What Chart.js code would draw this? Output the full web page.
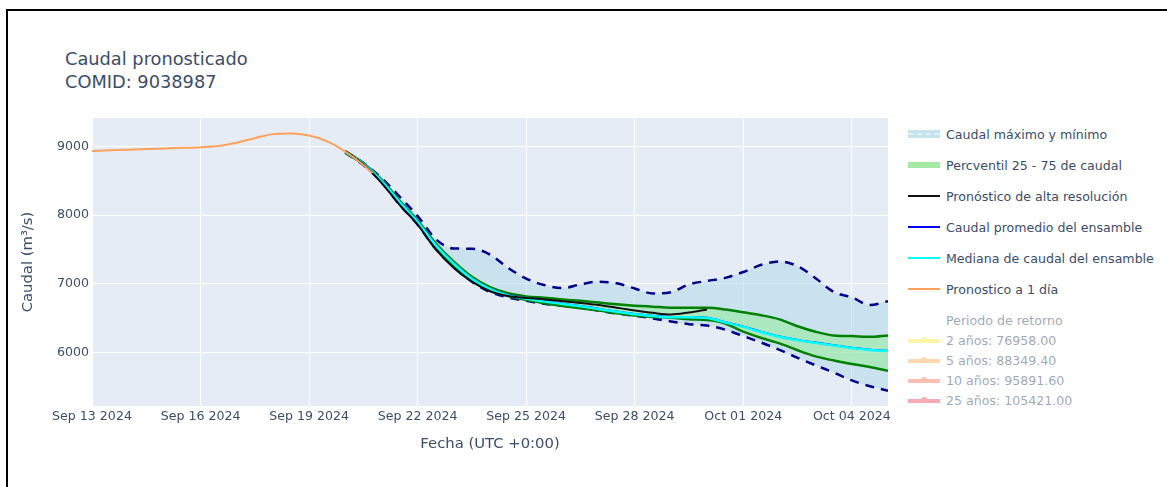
<!DOCTYPE html>
<html>
<head>
<meta charset="utf-8">
<script src="https://cdn.jsdelivr.net/npm/chart.js@4.4.1/dist/chart.umd.min.js"></script>
<style>
  body { margin: 0; width: 1167px; height: 487px; overflow: hidden; position: relative; background: #fff;
         font-family: "DejaVu Sans", Verdana, sans-serif; color: #3b4d69; }
  #marco { position: absolute; left: 6px; top: 9px; width: 1200px; height: 600px; border: 2px solid #000; }
  #titulo { position: absolute; left: 65px; top: 47px; font-size: 17.8px; line-height: 23px; }
  #grafico { position: absolute; left: 0; top: 0; }
  .item { position: absolute; left: 908px; height: 20px; display: flex; align-items: center; white-space: nowrap; font-size: 12.6px; }
  .sw { width: 32px; height: 10px; margin-right: 6px; position: relative; }
  .sw div { position: absolute; left: 0; width: 32px; }
</style>
</head>
<body>
<div id="marco"></div>
<div id="titulo">Caudal pronosticado<br>COMID: 9038987</div>
<canvas id="grafico" width="900" height="487"></canvas>
<div id="leyenda"></div>
<script>
// Pronóstico a 1 día
const fechas1d = ['2024-09-13T00:00Z', '2024-09-13T12:00Z', '2024-09-14T00:00Z', '2024-09-14T12:00Z',
  '2024-09-15T00:00Z', '2024-09-15T12:00Z', '2024-09-16T00:00Z', '2024-09-16T12:00Z', '2024-09-17T00:00Z',
  '2024-09-17T12:00Z', '2024-09-18T00:00Z', '2024-09-18T12:00Z', '2024-09-19T00:00Z', '2024-09-19T12:00Z',
  '2024-09-20T00:00Z', '2024-09-20T12:00Z', '2024-09-20T18:00Z'];
const caudal1d = [8935, 8944, 8953, 8962, 8972, 8980, 8990, 9008, 9055, 9120, 9180, 9190, 9160, 9075, 8925, 8730, 8610];

// ensamble
const fechasEns = ['2024-09-20T00:00Z', '2024-09-20T12:00Z', '2024-09-21T00:00Z', '2024-09-21T12:00Z',
  '2024-09-22T00:00Z', '2024-09-22T12:00Z', '2024-09-23T00:00Z', '2024-09-23T12:00Z', '2024-09-24T00:00Z',
  '2024-09-24T12:00Z', '2024-09-25T00:00Z', '2024-09-25T12:00Z', '2024-09-26T00:00Z', '2024-09-26T12:00Z',
  '2024-09-27T00:00Z', '2024-09-27T12:00Z', '2024-09-28T00:00Z', '2024-09-28T12:00Z', '2024-09-29T00:00Z',
  '2024-09-29T12:00Z', '2024-09-30T00:00Z', '2024-09-30T12:00Z', '2024-10-01T00:00Z', '2024-10-01T12:00Z',
  '2024-10-02T00:00Z', '2024-10-02T12:00Z', '2024-10-03T00:00Z', '2024-10-03T12:00Z', '2024-10-04T00:00Z',
  '2024-10-04T12:00Z', '2024-10-05T00:00Z'];
const caudalMax = [8930, 8760, 8540, 8270, 7985, 7650, 7513, 7510, 7425, 7230, 7075, 6980, 6935, 6990, 7030, 7005,
  6930, 6857, 6876, 6990, 7040, 7085, 7170, 7275, 7325, 7255, 7080, 6880, 6800, 6690, 6744];
const caudalMin = [8910, 8730, 8480, 8150, 7860, 7510, 7240, 7030, 6880, 6800, 6750, 6706, 6680, 6652, 6605, 6565,
  6533, 6493, 6450, 6410, 6390, 6330, 6236, 6140, 6035, 5920, 5810, 5705, 5590, 5505, 5440];
const perc75 = [8930, 8760, 8520, 8210, 7920, 7590, 7320, 7100, 6950, 6860, 6815, 6795, 6770, 6750, 6725, 6700,
  6680, 6665, 6650, 6648, 6648, 6625, 6584, 6540, 6480, 6380, 6300, 6245, 6236, 6225, 6246];
const perc25 = [8910, 8740, 8490, 8170, 7880, 7540, 7260, 7050, 6900, 6820, 6760, 6715, 6675, 6640, 6610, 6570,
  6535, 6515, 6505, 6480, 6470, 6420, 6300, 6208, 6130, 6030, 5940, 5880, 5830, 5785, 5729];
const caudalProm = [8922, 8753, 8504, 8194, 7904, 7565, 7294, 7074, 6924, 6834, 6784, 6744, 6709, 6674, 6634, 6594,
  6559, 6534, 6514, 6513, 6503, 6439, 6374, 6297, 6231, 6181, 6141, 6103, 6068, 6038, 6023];
const caudalMed = [8920, 8750, 8500, 8190, 7900, 7560, 7290, 7070, 6920, 6830, 6780, 6740, 6705, 6670, 6630, 6590,
  6555, 6530, 6510, 6510, 6500, 6435, 6370, 6293, 6227, 6177, 6137, 6099, 6064, 6034, 6019];

// alta resolución
const fechasHres = fechasEns.slice(0, 21);
const caudalHres = [8930, 8740, 8470, 8150, 7860, 7500, 7230, 7030, 6890, 6820, 6790, 6770, 6745, 6720, 6690, 6650,
  6610, 6575, 6550, 6580, 6625];

// periodos de retorno
const periodos = [2, 5, 10, 25];
const retorno = [76958.00, 88349.40, 95891.60, 105421.00];

const nombres = ['Caudal máximo y mínimo', 'Percventil 25 - 75 de caudal', 'Pronóstico de alta resolución',
  'Caudal promedio del ensamble', 'Mediana de caudal del ensamble', 'Pronostico a 1 día'];

const ticksX = ['2024-09-13', '2024-09-16', '2024-09-19', '2024-09-22', '2024-09-25', '2024-09-28', '2024-10-01', '2024-10-04'];
const textoX = ['Sep 13 2024', 'Sep 16 2024', 'Sep 19 2024', 'Sep 22 2024', 'Sep 25 2024', 'Sep 28 2024', 'Oct 01 2024', 'Oct 04 2024'];
const ticksY = [6000, 7000, 8000, 9000];

const puntos = (fechas, vals) => vals.map((v, i) => ({ x: Date.parse(fechas[i]), y: v }));

const coloresRet = ['rgb(255,235,60)', 'rgb(255,170,70)', 'rgb(255,110,90)', 'rgb(240,70,90)'];
const tIni = Date.parse(fechas1d[0]);
const tFin = Date.parse(fechasEns[fechasEns.length - 1]);

const linea = { pointRadius: 0, borderWidth: 2, cubicInterpolationMode: 'monotone', fill: false };

const datasets = [
  { ...linea, label: nombres[0], data: puntos(fechasEns, caudalMax), borderColor: '#00008b', borderWidth: 2.5,
    borderDash: [9, 7], fill: '+1', backgroundColor: 'rgba(173,216,230,0.5)', order: 10, swatch: 'banda' },
  { ...linea, label: 'min', data: puntos(fechasEns, caudalMin), borderColor: '#00008b', borderWidth: 2.5,
    borderDash: [9, 7], order: 9, swatch: null },
  { ...linea, label: nombres[1], data: puntos(fechasEns, perc75), borderColor: '#008000', borderWidth: 2.5, fill: '+1',
    backgroundColor: 'rgba(144,238,144,0.5)', order: 8, swatch: 'verde' },
  { ...linea, label: 'p25', data: puntos(fechasEns, perc25), borderColor: '#008000', borderWidth: 2.5, order: 7, swatch: null },
  { ...linea, label: nombres[2], data: puntos(fechasHres, caudalHres), borderColor: '#111', order: 4, swatch: 'linea' },
  { ...linea, label: nombres[3], data: puntos(fechasEns, caudalProm), borderColor: '#0000ff', order: 6, swatch: 'linea' },
  { ...linea, label: nombres[4], data: puntos(fechasEns, caudalMed), borderColor: '#00ffff', borderWidth: 2.5, order: 5, swatch: 'linea' },
  { ...linea, label: nombres[5], data: puntos(fechas1d, caudal1d), borderColor: '#ffa15a', order: 3, swatch: 'linea' }
];
periodos.forEach((p, i) => {
  datasets.push({ ...linea, label: p + ' años: ' + retorno[i].toFixed(2), hidden: true,
    data: [{ x: tIni, y: retorno[i] }, { x: tFin, y: retorno[i] }],
    borderColor: coloresRet[i], order: 1, swatch: 'marca' });
});

const fondo = {
  id: 'fondo',
  beforeDraw(chart) {
    const { ctx, chartArea: a } = chart;
    ctx.save();
    ctx.fillStyle = '#e5ecf6';
    ctx.fillRect(a.left, a.top, a.right - a.left, a.bottom - a.top);
    ctx.restore();
  }
};

Chart.defaults.font.family = '"DejaVu Sans", Verdana, sans-serif';
Chart.defaults.color = '#3b4d69';

const chart = new Chart(document.getElementById('grafico').getContext('2d'), {
  type: 'line',
  data: { datasets },
  plugins: [fondo],
  options: {
    responsive: false,
    animation: false,
    layout: { padding: { left: 0, top: 118, right: 12, bottom: 0 } },
    plugins: { legend: { display: false }, tooltip: { enabled: false } },
    scales: {
      x: {
        type: 'linear', min: tIni, max: tFin,
        afterFit: s => { s.height = 81; },
        afterBuildTicks: s => { s.ticks = ticksX.map(t => ({ value: Date.parse(t + 'T00:00Z') })); },
        ticks: { autoSkip: false, maxRotation: 0, padding: 3, font: { size: 12.6 },
          callback: (v, i) => textoX[i] },
        grid: { color: '#fff', lineWidth: 1, drawTicks: false },
        border: { display: false },
        title: { display: true, text: 'Fecha (UTC +0:00)', font: { size: 14.8 }, padding: { top: 0, bottom: 34 } }
      },
      y: {
        min: 5217, max: 9415,
        afterFit: s => { s.width = 92; },
        afterBuildTicks: s => { s.ticks = ticksY.map(v => ({ value: v })); },
        ticks: { padding: 3, font: { size: 12.6 }, callback: v => String(v) },
        grid: { color: '#fff', lineWidth: 1, drawTicks: false },
        border: { display: false },
        title: { display: true, text: 'Caudal (m³/s)', font: { size: 14.8 }, padding: { top: 19, bottom: 0 } }
      }
    }
  }
});

// leyenda
const leyenda = document.getElementById('leyenda');
const centros = [134, 165, 196, 227, 258, 289];
const centrosRet = [340, 360, 380, 400];
function fila(y, html, texto, tenue) {
  const d = document.createElement('div');
  d.className = 'item';
  d.style.top = (y - 10) + 'px';
  if (tenue) d.style.color = 'rgba(59,77,105,0.5)';
  d.innerHTML = html + '<span>' + texto + '</span>';
  leyenda.appendChild(d);
}
let k = 0, r = 0;
chart.data.datasets.forEach(ds => {
  if (ds.swatch === 'banda') {
    fila(centros[k++], '<div class="sw"><div style="top:1px;height:8px;background:rgba(173,216,230,0.7)"></div>' +
      '<div style="top:4px;height:0;border-top:2px dashed rgba(255,255,255,0.45)"></div></div>', ds.label);
  } else if (ds.swatch === 'verde') {
    fila(centros[k++], '<div class="sw"><div style="top:2px;height:6px;background:#a4eaa4"></div></div>', ds.label);
  } else if (ds.swatch === 'linea') {
    fila(centros[k++], '<div class="sw"><div style="top:4px;height:2px;background:' + ds.borderColor + '"></div></div>', ds.label);
  } else if (ds.swatch === 'marca') {
    if (r === 0) fila(320, '<div class="sw"></div>', 'Periodo de retorno', true);
    fila(centrosRet[r++], '<div class="sw" style="opacity:0.45"><div style="top:4px;height:4px;background:' + ds.borderColor + '"></div>' +
      '<div style="top:2px;left:13px;width:6px;height:6px;border-radius:50%;background:' + ds.borderColor + '"></div></div>', ds.label, true);
  }
});
</script>
</body>
</html>
